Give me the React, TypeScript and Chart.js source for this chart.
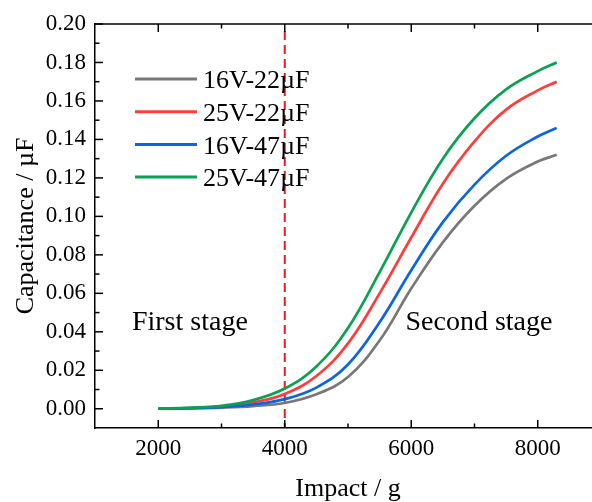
import { useEffect, useRef } from "react";
import { Chart, registerables } from "chart.js";

Chart.register(...registerables);

// ---- data ----
const impact = [2000, 2500, 3000, 3500, 4000, 4500, 5000, 5500, 6000, 6500, 7000, 7500, 8000, 8300];
const cap16V22 = [0, 0.0002, 0.0006, 0.0014, 0.003, 0.0075, 0.0165, 0.0355, 0.0625, 0.0865, 0.1055, 0.1195, 0.1285, 0.132];
const cap25V22 = [0, 0.0004, 0.0012, 0.0033, 0.0077, 0.017, 0.034, 0.06, 0.089, 0.117, 0.139, 0.1555, 0.1655, 0.17];
const cap16V47 = [0, 0.0003, 0.0009, 0.0022, 0.005, 0.011, 0.023, 0.045, 0.072, 0.097, 0.1165, 0.1315, 0.1415, 0.146];
const cap25V47 = [0, 0.0005, 0.0015, 0.0045, 0.0105, 0.022, 0.042, 0.071, 0.102, 0.13, 0.151, 0.166, 0.1755, 0.18];

const seriesLabels = ["16V-22µF", "25V-22µF", "16V-47µF", "25V-47µF"];
const seriesValues = [cap16V22, cap25V22, cap16V47, cap25V47];
const seriesColors = ["#787878", "#ff3c3c", "#0a66e0", "#0aa152"];

const xTickValues = [2000, 4000, 6000, 8000];
const xMinorTicks = [3000, 5000, 7000];
const yTickValues = [0, 0.02, 0.04, 0.06, 0.08, 0.1, 0.12, 0.14, 0.16, 0.18, 0.2];
const yMinorTicks = [0.01, 0.03, 0.05, 0.07, 0.09, 0.11, 0.13, 0.15, 0.17, 0.19];

const stageBoundary = 4000;
const stageLabels = ["First stage", "Second stage"];

const FAMILY = "'Liberation Serif', 'Times New Roman', serif";

const decorPlugin = {
  id: "decor",
  beforeDatasetsDraw(chart: any) {
    const { ctx, chartArea, scales } = chart;
    const x = scales.x.getPixelForValue(stageBoundary);
    ctx.save();
    ctx.strokeStyle = "#f01818";
    ctx.lineWidth = 2;
    ctx.setLineDash([9, 5]);
    ctx.beginPath();
    ctx.moveTo(x, chartArea.top + 7);
    ctx.lineTo(x, chartArea.bottom);
    ctx.stroke();
    ctx.restore();
  },
  afterDraw(chart: any) {
    const { ctx, chartArea, scales } = chart;
    const xs = scales.x;
    const ys = scales.y;
    ctx.save();
    // top frame line
    ctx.strokeStyle = "#000";
    ctx.lineWidth = 1.5;
    ctx.beginPath();
    ctx.moveTo(chartArea.left, chartArea.top);
    ctx.lineTo(chartArea.right, chartArea.top);
    ctx.stroke();
    // inward ticks
    const tick = (x1: number, y1: number, x2: number, y2: number) => {
      ctx.beginPath();
      ctx.moveTo(x1, y1);
      ctx.lineTo(x2, y2);
      ctx.stroke();
    };
    xTickValues.forEach((v) => {
      const p = xs.getPixelForValue(v);
      tick(p, chartArea.bottom, p, chartArea.bottom - 8);
      tick(p, chartArea.top, p, chartArea.top + 8);
    });
    xMinorTicks.forEach((v) => {
      const p = xs.getPixelForValue(v);
      tick(p, chartArea.bottom, p, chartArea.bottom - 4.5);
      tick(p, chartArea.top, p, chartArea.top + 4.5);
    });
    yTickValues.forEach((v) => {
      const p = ys.getPixelForValue(v);
      tick(chartArea.left, p, chartArea.left + 8, p);
    });
    yMinorTicks.forEach((v) => {
      const p = ys.getPixelForValue(v);
      tick(chartArea.left, p, chartArea.left + 4.5, p);
    });

    // legend
    ctx.font = `26px ${FAMILY}`;
    ctx.fillStyle = "#000";
    ctx.textBaseline = "alphabetic";
    ctx.textAlign = "left";
    seriesLabels.forEach((label, i) => {
      const y = chartArea.top + 55 + i * 32.7;
      ctx.strokeStyle = seriesColors[i];
      ctx.lineWidth = 3;
      tick(chartArea.left + 40, y, chartArea.left + 102, y);
      ctx.fillText(label, chartArea.left + 108, y + 9.3);
    });

    // stage annotations
    ctx.font = `28px ${FAMILY}`;
    ctx.textAlign = "center";
    ctx.fillText(stageLabels[0], xs.getPixelForValue(2500), ys.getPixelForValue(0.041));
    ctx.fillText(stageLabels[1], xs.getPixelForValue(7070), ys.getPixelForValue(0.041));
    ctx.restore();
  },
};

export default function App() {
  const canvasRef = useRef<HTMLCanvasElement | null>(null);

  useEffect(() => {
    if (!canvasRef.current) return;
    const order = [4, 3, 2, 1];
    const chart = new Chart(canvasRef.current, {
      type: "line",
      data: {
        datasets: seriesLabels.map((label, i) => ({
          label,
          data: impact.map((x, j) => ({ x, y: seriesValues[i][j] })),
          borderColor: seriesColors[i],
          backgroundColor: seriesColors[i],
          borderWidth: 2.7,
          pointRadius: 0,
          fill: false,
          tension: 0.4,
          order: order[i],
        })),
      },
      options: {
        animation: false,
        responsive: false,
        devicePixelRatio: 1,
        layout: { padding: { top: 24, left: 0, right: 0, bottom: 0 } },
        plugins: { legend: { display: false }, tooltip: { enabled: false } },
        scales: {
          x: {
            type: "linear",
            min: 1000,
            max: 9000,
            afterBuildTicks: (s: any) => {
              s.ticks = xTickValues.map((v) => ({ value: v }));
            },
            afterFit: (s: any) => {
              s.height = 74;
            },
            grid: { display: false, drawTicks: false },
            border: { display: true, color: "#000", width: 1.5 },
            ticks: {
              color: "#000",
              font: { family: FAMILY, size: 23 },
              padding: 7,
              maxRotation: 0,
              autoSkip: false,
              callback: (v: any) => String(v),
            },
            title: {
              display: true,
              text: "Impact / g",
              color: "#000",
              font: { family: FAMILY, size: 26, lineHeight: 1 },
              padding: { top: 0, bottom: 0 },
            },
          },
          y: {
            type: "linear",
            min: -0.01,
            max: 0.2,
            afterBuildTicks: (s: any) => {
              s.ticks = yTickValues.map((v) => ({ value: v }));
            },
            afterFit: (s: any) => {
              s.width = 95;
            },
            grid: { display: false, drawTicks: false },
            border: { display: true, color: "#000", width: 1.5 },
            ticks: {
              color: "#000",
              font: { family: FAMILY, size: 23 },
              padding: 9,
              autoSkip: false,
              callback: (v: any) => Number(v).toFixed(2),
            },
            title: {
              display: true,
              text: "Capacitance / µF",
              color: "#000",
              font: { family: FAMILY, size: 26, lineHeight: 1 },
              padding: { top: 13, bottom: 0 },
            },
          },
        },
      },
      plugins: [decorPlugin],
    });
    return () => chart.destroy();
  }, []);

  return (
    <div
      style={{
        position: "fixed",
        left: 0,
        top: 0,
        width: 592,
        height: 502,
        overflow: "hidden",
        background: "#fff",
      }}
    >
      <canvas ref={canvasRef} width={601} height={502} style={{ display: "block" }} />
    </div>
  );
}
